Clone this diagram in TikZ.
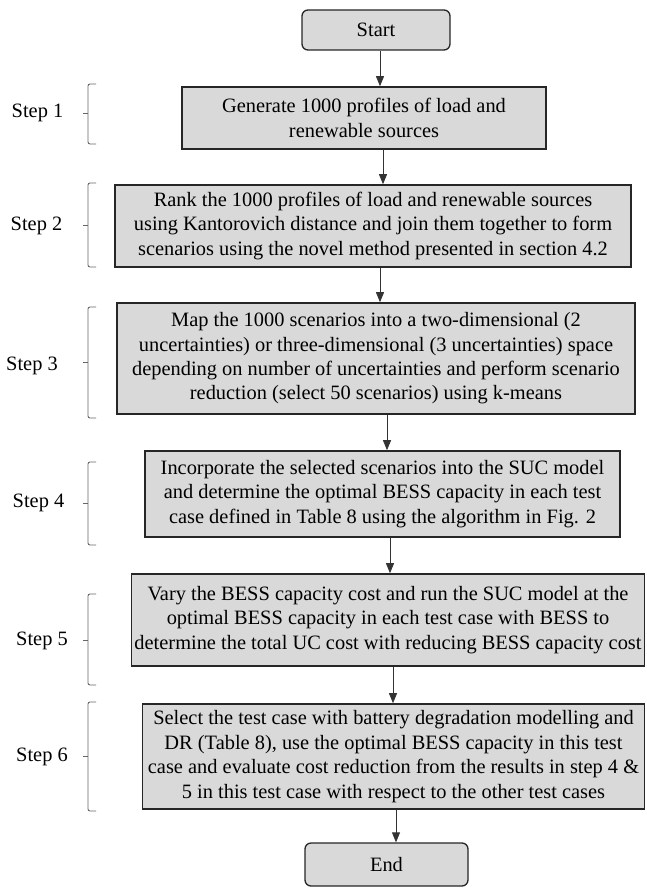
\documentclass[tikz,border=0pt]{standalone}
\usepackage{fontspec}
\setmainfont{Liberation Serif}
\usetikzlibrary{arrows.meta}
\definecolor{boxgray}{HTML}{D9D9D9}
\definecolor{bracegray}{HTML}{666666}
\newcommand{\stepbrace}[3]{%
  \draw[bracegray, line width=0.9pt, rounded corners=2pt] (96,#1) -- (88,#1) -- (88,#2) -- (96,#2);
  \draw[bracegray, line width=0.9pt] (83,#3) -- (88,#3);}
\begin{document}
\begin{tikzpicture}[x=1pt,y=-1pt,
  txt/.style={font=\fontsize{20.4}{24.4}\selectfont},
  stepbox/.style={draw=black!85, line width=1.6pt, fill=boxgray, align=center, inner sep=0pt, txt},
  termbox/.style={stepbox, rounded corners=6pt, line width=1.3pt},
  lab/.style={txt, inner sep=0pt},
  arr/.style={draw=black!80, line width=0.8pt, -{Triangle[length=10pt,width=8pt]}}]
\useasboundingbox (0,0) rectangle (646,888);

\node[termbox, minimum width=148pt, minimum height=40pt] (start) at (376,30) {Start};
\node[stepbox, minimum width=364pt, minimum height=62pt] (s1) at (364,118)
  {Generate 1000 profiles of load and\\renewable sources};
\node[stepbox, minimum width=516pt, minimum height=82pt] (s2) at (373,226)
  {Rank the 1000 profiles of load and renewable sources\\using Kantorovich distance and join them together to form\\scenarios using the novel method presented in section 4.2};
\node[stepbox, minimum width=518pt, minimum height=111pt] (s3) at (376,358.5)
  {Map the 1000 scenarios into a two-dimensional (2\\uncertainties) or three-dimensional (3 uncertainties) space\\depending on number of uncertainties and perform scenario\\reduction (select 50 scenarios) using k-means};
\node[stepbox, minimum width=475pt, minimum height=86pt] (s4) at (382.5,494)
  {Incorporate the selected scenarios into the SUC model\\and determine the optimal BESS capacity in each test\\case defined in Table 8 using the algorithm in Fig. 2};
\node[stepbox, minimum width=513pt, minimum height=92pt] (s5) at (388,620)
  {Vary the BESS capacity cost and run the SUC model at the\\optimal BESS capacity in each test case with BESS to\\determine the total UC cost with reducing BESS capacity cost};
\node[stepbox, minimum width=502pt, minimum height=105pt] (s6) at (393.5,756.5)
  {Select the test case with battery degradation modelling and\\DR (Table 8), use the optimal BESS capacity in this test\\case and evaluate cost reduction from the results in step 4 \&\\5 in this test case with respect to the other test cases};
\node[termbox, minimum width=163pt, minimum height=43pt] (end) at (386.5,864.5) {End};

\coordinate (a0) at (380,0);
\coordinate (a1) at (383,0);
\coordinate (a2) at (380,0);
\coordinate (a3) at (387,0);
\coordinate (a4) at (390,0);
\coordinate (a5) at (393,0);
\coordinate (a6) at (396,0);
\draw[arr] (start.south -| a0) -- (s1.north -| a0);
\draw[arr] (s1.south -| a1) -- (s2.north -| a1);
\draw[arr] (s2.south -| a2) -- (s3.north -| a2);
\draw[arr] (s3.south -| a3) -- (s4.north -| a3);
\draw[arr] (s4.south -| a4) -- (s5.north -| a4);
\draw[arr] (s5.south -| a5) -- (s6.north -| a5);
\draw[arr] (s6.south -| a6) -- (end.north -| a6);

\node[lab] (l1) at (37.5,113) {Step 1};
\node[lab] (l2) at (36.5,226) {Step 2};
\node[lab] (l3) at (32,366) {Step 3};
\node[lab] (l4) at (38.5,503) {Step 4};
\node[lab] (l5) at (42,641) {Step 5};
\node[lab] (l6) at (42,757) {Step 6};

\stepbrace{84}{144}{113}
\stepbrace{183}{267}{225}
\stepbrace{307}{418}{362}
\stepbrace{462}{545}{503}
\stepbrace{594}{685}{640}
\stepbrace{702}{811}{756}
\end{tikzpicture}
\end{document}
